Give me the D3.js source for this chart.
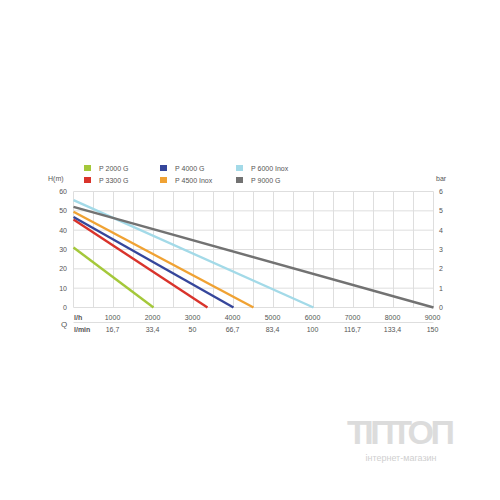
<!DOCTYPE html>
<html lang="en">
<head>
<meta charset="UTF-8">
<title>Pump curves</title>
<style>
  body, html { margin: 0; padding: 0; background: #fff; }
  svg { font-family: "Liberation Sans", Arial, sans-serif; }
</style>
</head>
<body>
<div id="container"></div>
<script src="https://d3js.org/d3.v7.min.js"></script>
<script>
  // -------- DATA ------------
  const pumps = ["P 2000 G", "P 3300 G", "P 4000 G", "P 4500 Inox", "P 6000 Inox", "P 9000 G"]
  const colors = ["#a4c83a", "#d9332b", "#35469b", "#f0a233", "#a3dae8", "#727272"]
  // head at zero flow (m) and max flow (l/h)
  const maxHead = [31, 45.5, 46.8, 49.5, 55.5, 52]
  const maxFlow = [2000, 3350, 4000, 4500, 6000, 9000]
  const flowTicks = [1000, 2000, 3000, 4000, 5000, 6000, 7000, 8000, 9000]
  const minTicks = ["16,7", "33,4", "50", "66,7", "83,4", "100", "116,7", "133,4", "150"]
  const headTicks = [0, 10, 20, 30, 40, 50, 60]
  const barTicks = [0, 1, 2, 3, 4, 5, 6]

  const svg = d3.select('#container').append('svg')
    .attr('width', 500).attr('height', 500)

  // -------- SCALES ------------
  const x = d3.scaleLinear().domain([0, 9000]).range([73.5, 433.5])
  const y = d3.scaleLinear().domain([0, 60]).range([307.5, 191.5])
  const yBar = d3.scaleLinear().domain([0, 6]).range([307.5, 191.5])

  const textColor = '#555'

  // grid
  const grid = svg.append('g')
  grid.selectAll('line.v')
    .data(d3.range(0, 9001, 500))
    .enter().append('line')
    .attr('x1', d => x(d)).attr('x2', d => x(d))
    .attr('y1', y(60)).attr('y2', y(0))
    .attr('stroke', '#dedede').attr('stroke-width', 1)
  grid.selectAll('line.h')
    .data(headTicks)
    .enter().append('line')
    .attr('x1', x(0)).attr('x2', x(9000))
    .attr('y1', d => y(d)).attr('y2', d => y(d))
    .attr('stroke', '#dedede').attr('stroke-width', 1)

  // separator between l/h and l/min rows
  svg.append('line')
    .attr('x1', x(0)).attr('x2', x(9000))
    .attr('y1', 322.5).attr('y2', 322.5)
    .attr('stroke', '#dedede')

  // left axis labels
  svg.selectAll('text.left')
    .data(headTicks)
    .enter().append('text')
    .attr('x', 67).attr('y', d => y(d) + 2.5)
    .attr('text-anchor', 'end')
    .style('font-size', '7px').attr('fill', textColor)
    .text(d => d)

  // right axis labels
  svg.selectAll('text.right')
    .data(barTicks)
    .enter().append('text')
    .attr('x', 439).attr('y', d => yBar(d) + 2.5)
    .attr('text-anchor', 'start')
    .style('font-size', '7px').attr('fill', textColor)
    .text(d => d)

  // bottom labels
  svg.selectAll('text.flow')
    .data(flowTicks)
    .enter().append('text')
    .attr('x', d => x(d) - 1).attr('y', 320)
    .attr('text-anchor', 'middle')
    .style('font-size', '7px').attr('fill', textColor)
    .text(d => d)
  svg.selectAll('text.min')
    .data(minTicks)
    .enter().append('text')
    .attr('x', (d, i) => x(flowTicks[i]) - 1).attr('y', 332)
    .attr('text-anchor', 'middle')
    .style('font-size', '7px').attr('fill', textColor)
    .text(d => d)

  svg.append('text').attr('x', 74).attr('y', 320)
    .style('font-size', '7px').style('font-weight', 'bold').attr('fill', textColor).text('l/h')
  svg.append('text').attr('x', 74).attr('y', 332)
    .style('font-size', '7px').style('font-weight', 'bold').attr('fill', textColor).text('l/min')
  svg.append('text').attr('x', 61).attr('y', 327)
    .style('font-size', '8px').attr('fill', textColor).text('Q')

  svg.append('text').attr('x', 48).attr('y', 181)
    .style('font-size', '7px').attr('fill', textColor).text('H(m)')
  svg.append('text').attr('x', 436).attr('y', 181)
    .style('font-size', '7px').attr('fill', textColor).text('bar')

  // -------- LEGEND ------------
  const legend = svg.append('g')
  pumps.forEach((p, i) => {
    const col = Math.floor(i / 2), row = i % 2
    const lx = 84 + col * 76, ly = 165 + row * 12
    legend.append('rect')
      .attr('x', lx).attr('y', ly).attr('width', 7).attr('height', 6)
      .attr('fill', colors[i])
    legend.append('text')
      .attr('x', lx + 15).attr('y', ly + 5.5)
      .style('font-size', '7px').attr('fill', textColor)
      .text(p)
  })

  // -------- LINES ------------
  svg.selectAll('line.pump')
    .data(pumps)
    .enter().append('line')
    .attr('x1', x(0)).attr('y1', (d, i) => y(maxHead[i]))
    .attr('x2', (d, i) => x(maxFlow[i])).attr('y2', y(0))
    .attr('stroke', (d, i) => colors[i])
    .attr('stroke-width', 2.4)

  // -------- WATERMARK ------------
  svg.append('text').attr('x', 401).attr('y', 444)
    .attr('text-anchor', 'middle')
    .style('font-size', '34px').style('font-weight', 'bold')
    .attr('textLength', 108)
    .attr('fill', '#dcdcdc').text('ТІПТОП')
  svg.append('text').attr('x', 401).attr('y', 461)
    .attr('text-anchor', 'middle')
    .style('font-size', '9px')
    .attr('fill', '#cfcfcf').text('інтернет-магазин')
</script>
</body>
</html>
